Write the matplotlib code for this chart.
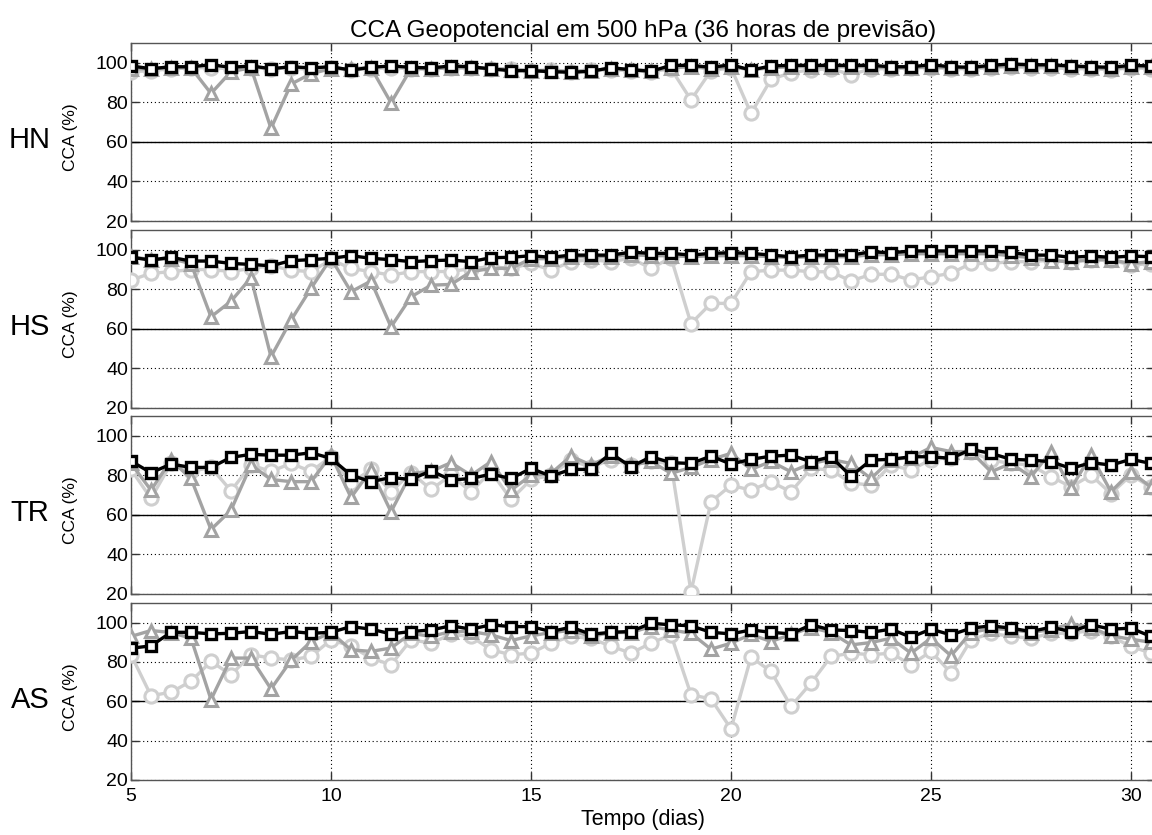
import numpy as np
import matplotlib
matplotlib.use("Agg")
import matplotlib.pyplot as plt

days = list(np.arange(5.0, 30.51, 0.5))

regions = ["HN", "HS", "TR", "AS"]

# light grey circles
HN_c = [95.5, 96, 97, 97.5, 97.5, 97, 97.5, 97, 97.5, 96.5,
        97.5, 96.5, 97, 97.5, 97, 97, 97.5, 97.5, 97, 97,
        96, 96.5, 95.5, 96.5, 96.5, 96, 95.5, 97, 81.2, 96,
        97.5, 74.4, 91.6, 95, 96.5, 97, 94, 97, 97, 97.5,
        97.5, 97, 97, 97.5, 98, 97.5, 97.5, 97, 97, 96.5,
        97.5, 97]
# medium grey triangles
HN_t = [97, 97, 97.5, 97.5, 84.5, 95.5, 97.5, 66.8, 89.2, 94.5,
        97, 97, 97.5, 79.8, 97, 97, 97.5, 97.5, 97, 96.5,
        96, 96, 95.5, 96, 97, 96.5, 96, 97.5, 98, 97,
        98, 96.5, 97.5, 98, 98, 98, 98, 98, 97.5, 97.5,
        98, 97.5, 97.5, 98, 98.5, 98.5, 98.5, 98, 97.5, 97,
        98, 98]
# black squares
HN_s = [98.4, 97.0, 98.0, 98.0, 99.0, 97.7, 98.4, 97.0, 98.0, 97.4,
        98.0, 96.3, 97.7, 98.4, 97.7, 97.4, 98.4, 98.0, 96.9, 96.0,
        96.0, 95.5, 95.2, 95.7, 97.5, 96.5, 95.7, 98.7, 98.7, 97.7,
        99.0, 96.3, 98.4, 98.7, 98.7, 98.7, 98.7, 98.7, 98.0, 98.0,
        99.0, 98.0, 97.7, 98.7, 99.4, 99.0, 99.0, 98.4, 98.0, 97.7,
        98.7, 98.4]

HS_c = [84.7, 88.1, 88.9, 90, 90, 89, 90.6, 92, 89.7, 88.9,
        95, 90.6, 88.9, 87.2, 88.9, 89, 89, 90.5, 91.4, 90.6,
        93.1, 89.7, 94, 95, 94, 95.7, 90.6, 96, 62.7, 72.9,
        72.9, 88.9, 89.7, 89.7, 88.9, 88.9, 84.2, 87.6, 87.6, 84.7,
        86.4, 88.1, 93.1, 93.1, 94, 94, 94.8, 94, 94.8, 94.8,
        92.3, 93]
HS_t = [96.5, 95, 95.5, 93, 66.1, 74.0, 85.9, 45.9, 64.4, 80.5,
        95.7, 78.8, 84.2, 61.0, 76.2, 82.1, 82.5, 88.9, 90.6, 90.6,
        95.5, 95.5, 96.5, 96.5, 96.5, 97.5, 97, 97, 96.5, 97,
        97, 97, 96.5, 96, 96.5, 96.5, 96.5, 97.5, 97.5, 98,
        98, 98, 98, 98, 97, 96, 94.5, 94, 95, 95,
        93, 94]
HS_s = [96.2, 94.8, 96.2, 94.3, 94.3, 93.1, 92.6, 91.9, 94.5, 95.0,
        95.7, 97.0, 95.7, 95.0, 94.0, 94.5, 94.8, 94.0, 96.0, 96.2,
        97.0, 96.2, 97.3, 97.3, 97.3, 98.8, 98.2, 98.2, 97.3, 98.2,
        98.5, 98.2, 97.3, 96.5, 97.3, 97.3, 97.3, 99.0, 98.5, 99.4,
        99.4, 99.4, 99.4, 99.4, 98.7, 97.3, 97.3, 96.2, 96.8, 96.2,
        96.8, 96.5]

TR_c = [83, 68.3, 86, 82, 84, 72.2, 85.2, 82, 86, 82,
        89.4, 76, 83.0, 71.7, 81.3, 72.9, 80, 71.7, 82, 67.8,
        77.9, 80, 87.7, 84, 88, 85.2, 87, 86, 21.1, 66.6,
        75.0, 72.5, 76.7, 71.7, 83.5, 82.7, 76.2, 75.0, 85.2, 82.7,
        88, 89, 92, 87.7, 86, 85.2, 79.3, 74.2, 80.1, 70.8,
        80.1, 74]
TR_t = [86, 72.5, 87.7, 78.4, 52.6, 62.4, 85.2, 77.9, 76.8, 76.8,
        90.2, 68.8, 82.7, 61.6, 81, 82, 86.4, 80, 86.9, 72.5,
        80, 81, 89.7, 85.2, 90, 85, 87, 81, 84, 88,
        91.1, 83, 87, 81.8, 86, 88, 86, 78.4, 88, 89,
        94.1, 92, 92, 81.8, 86, 79.3, 92, 73.4, 90.2, 71.7,
        81.8, 74]
TR_s = [87.2, 81.3, 85.7, 84.0, 84.0, 89.1, 90.6, 90.2, 90.2, 91.4,
        88.6, 80.1, 76.8, 78.9, 77.9, 82.3, 77.6, 78.4, 80.6, 78.4,
        83.5, 79.6, 83.0, 83.0, 91.1, 84.3, 89.4, 86.4, 86.0, 89.7,
        85.7, 88.1, 89.7, 90.2, 86.9, 89.4, 79.6, 87.7, 88.1, 89.4,
        89.4, 88.6, 93.1, 91.1, 88.1, 87.7, 86.9, 83.5, 86.4, 85.2,
        88.1, 86]

AS_c = [83.7, 62.9, 64.6, 70.2, 80.3, 73.5, 83.7, 82, 81.1, 82.8,
        91.3, 88, 82, 78.6, 91.3, 89.6, 94, 93, 86.2, 83.7,
        84.5, 89.6, 93, 92, 88, 84.5, 89.6, 93.8, 63.4, 61.2,
        46.0, 82.5, 75.2, 57.5, 69.3, 82.8, 84.5, 83.7, 84.5, 78.6,
        85.4, 74.4, 91.3, 94.6, 93, 92.1, 94.6, 94.6, 96, 93,
        87.9, 84.5]
AS_t = [93, 96, 95, 92.1, 60.9, 82, 82, 66.3, 80.8, 90.4,
        95, 86.2, 85.4, 87.1, 94.6, 93, 95.5, 95.5, 93.8, 90.9,
        93.3, 95, 96, 93, 95, 95, 98, 96.3, 94.6, 86.5,
        89.6, 94, 90.4, 94, 97.5, 95, 88.7, 89.9, 92.1, 84.5,
        92.1, 83.2, 95, 97, 96.5, 95, 96.5, 99.5, 97.5, 93.3,
        91.6, 90]
AS_s = [87.0, 88.2, 95.1, 95.1, 94.3, 94.6, 95.5, 94.1, 95.5, 94.6,
        95.1, 98.0, 96.7, 94.3, 95.5, 96.3, 98.4, 96.7, 98.9, 98.0,
        98.0, 95.5, 97.7, 94.1, 95.1, 95.5, 99.7, 98.9, 98.4, 95.1,
        94.3, 96.3, 95.1, 94.3, 98.9, 96.3, 96.0, 95.1, 96.7, 92.6,
        96.7, 93.8, 97.2, 98.4, 97.2, 95.5, 97.7, 95.5, 98.9, 96.7,
        97.2, 93]

series = {
    "HN": (HN_c, HN_t, HN_s),
    "HS": (HS_c, HS_t, HS_s),
    "TR": (TR_c, TR_t, TR_s),
    "AS": (AS_c, AS_t, AS_s),
}

yticks = [20, 40, 60, 80, 100]
xticks = [5, 10, 15, 20, 25, 30]

plt.rcParams['font.family'] = ['Liberation Sans', 'DejaVu Sans']

W, H = 1152, 835
fig = plt.figure(figsize=(W / 100, H / 100), dpi=100)

left_px = 131
px_per_unit = 40.0
xmax = 30.6
width_px = (xmax - 5) * px_per_unit
panels_px = [(43, 221), (230, 408), (416, 594), (603, 780)]

light = '#cfcfcf'
mid = '#a3a3a3'

for i, (name, (top, bot)) in enumerate(zip(regions, panels_px)):
    ax = fig.add_axes([left_px / W, 1 - bot / H, width_px / W, (bot - top) / H])
    c, t, s = series[name]
    ax.plot(days, c, color=light, lw=2.4, marker='o', ms=9.5, mew=2.2,
            mfc='white', mec=light, zorder=3)
    ax.plot(days, t, color=mid, lw=2.4, marker='^', ms=9, mew=2.2,
            mfc='white', mec=mid, zorder=4)
    ax.plot(days, s, color='black', lw=2.4, marker='s', ms=7.5, mew=2.4,
            mfc='white', mec='black', zorder=5)
    ax.axhline(60, color='black', lw=1.0, zorder=2)
    ax.set_xlim(5, xmax)
    ax.set_ylim(20, 110)
    ax.set_xticks(xticks)
    ax.set_yticks(yticks)
    ax.grid(True, color='black', linestyle=(0, (1, 2.5)), lw=0.8)
    ax.set_axisbelow(True)
    ax.tick_params(direction='in', length=6, width=1, top=True, right=True,
                   labelsize=14, colors='#333333', labelcolor='black')
    ax.tick_params(axis='y', pad=2)
    ax.tick_params(axis='x', pad=6)
    for sp in ax.spines.values():
        sp.set_color('#555555')
        sp.set_linewidth(1.0)
    if i < 3:
        ax.set_xticklabels([])
    else:
        ax.set_xlabel('Tempo (dias)', fontsize=15.5, labelpad=3)
    ax.set_ylabel('CCA (%)', fontsize=12.5)
    ax.yaxis.set_label_coords(-0.052, 0.47)
    fig.text(30 / W, 1 - (top + 97) / H, name, fontsize=21, ha='center', va='center')
    if i == 0:
        ax.set_title('CCA Geopotencial em 500 hPa (36 horas de previsão)',
                     fontsize=17.5, pad=4)

fig.savefig('out.png', dpi=100)
